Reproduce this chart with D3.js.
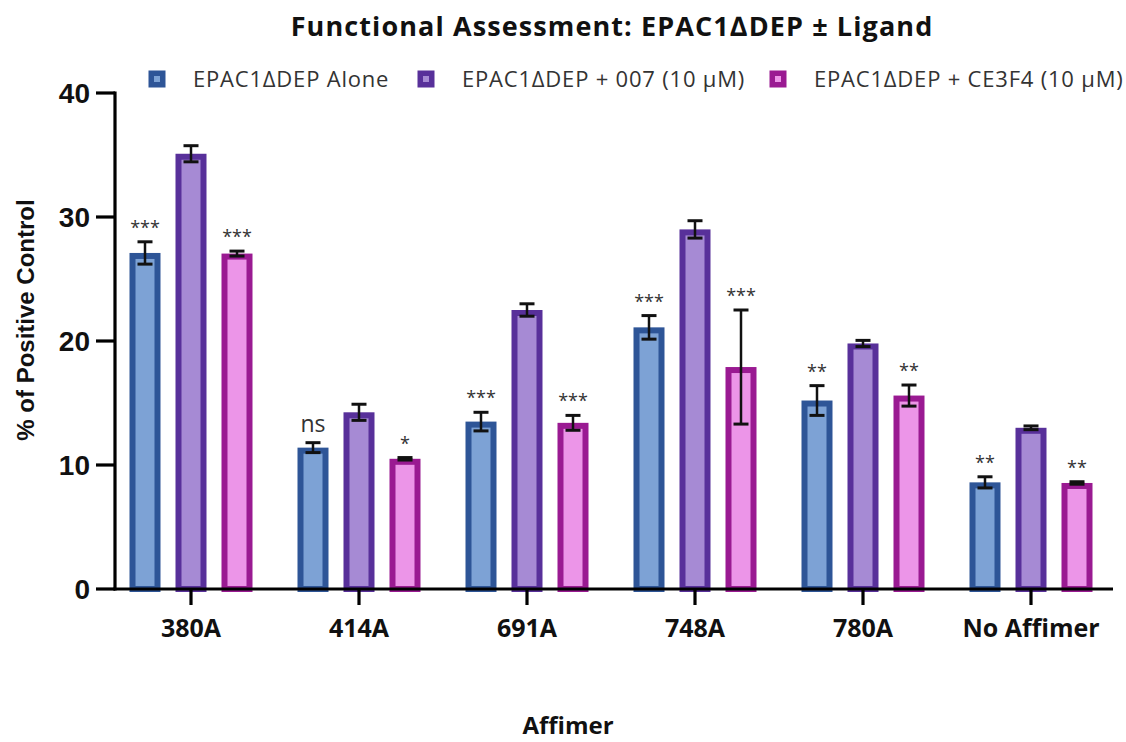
<!DOCTYPE html>
<html><head><meta charset="utf-8">
<script src="https://cdn.jsdelivr.net/npm/d3@7"></script>
<style>body{margin:0;background:#fff}svg{display:block}</style>
</head><body><svg id="c" width="1126" height="742"></svg>
<script>
const categories = ["380A","414A","691A","748A","780A","No Affimer"];
const seriesNames = ["EPAC1\u0394DEP Alone","EPAC1\u0394DEP + 007 (10 \u00B5M)","EPAC1\u0394DEP + CE3F4 (10 \u00B5M)"];
const aloneValues = [27.1, 11.4, 13.5, 21.1, 15.2, 8.6];
const aloneErrors = [0.9, 0.4, 0.75, 0.95, 1.2, 0.45];
const ligand007Values = [35.1, 14.25, 22.5, 29.0, 19.8, 13.0];
const ligand007Errors = [0.65, 0.65, 0.5, 0.7, 0.25, 0.15];
const ce3f4Values = [27.05, 10.5, 13.4, 17.9, 15.6, 8.55];
const ce3f4Errors = [0.2, 0.1, 0.6, 4.6, 0.85, 0.1];
const aloneSig = ["***","ns","***","***","**","**"];
const ligand007Sig = ["","","","","",""];
const ce3f4Sig = ["***","*","***","***","**","**"];
const yTicks = [0, 10, 20, 30, 40];

const strokeCols = ["#2E5597", "#58309A", "#9A1A92"];
const fillCols = ["#7DA2D5", "#A68AD4", "#EC95E8"];

const series = [
  {name: seriesNames[0], values: aloneValues, errors: aloneErrors, sig: aloneSig},
  {name: seriesNames[1], values: ligand007Values, errors: ligand007Errors, sig: ligand007Sig},
  {name: seriesNames[2], values: ce3f4Values, errors: ce3f4Errors, sig: ce3f4Sig}
];

const svg = d3.select("#c");
const x0 = d3.scaleBand().domain(categories).range([107, 1115]);
const x1 = d3.scaleBand().domain(d3.range(series.length)).range([15, 153]).paddingInner(0.326).paddingOuter(0.163);
const y = d3.scaleLinear().domain([0, 40]).range([589, 93]);

// Title
svg.append("text").attr("x", 612).attr("y", 36).attr("text-anchor", "middle")
  .attr("font-family", "Open Sans").attr("font-weight", "bold").attr("font-size", 27)
  .attr("letter-spacing", 1.1).attr("fill", "#111")
  .text("Functional Assessment: EPAC1\u2206DEP \u00B1 Ligand");

// Legend
const legendX = [157, 426, 778];
series.forEach((s, i) => {
  const g = svg.append("g").attr("transform", `translate(${legendX[i]},79)`);
  g.append("rect").attr("x", -8.5).attr("y", -8.5).attr("width", 17).attr("height", 17).attr("fill", strokeCols[i]);
  g.append("rect").attr("x", -3).attr("y", -3).attr("width", 6).attr("height", 6).attr("fill", fillCols[i]);
  g.append("text").attr("x", 36).attr("y", 8).attr("font-family", "Open Sans").attr("font-size", 22)
    .attr("letter-spacing", 0.8).attr("fill", "#333").text(s.name);
});

// Bars
const groups = svg.selectAll("g.grp").data(categories).join("g").attr("class", "grp")
  .attr("transform", d => `translate(${x0(d)},0)`);
series.forEach((s, si) => {
  groups.each(function(cat, ci) {
    const g = d3.select(this);
    const bx = x1(si), bw = x1.bandwidth();
    const v = s.values[ci], e = s.errors[ci];
    g.append("rect").attr("x", bx + 3).attr("y", y(v) + 3).attr("width", bw - 6).attr("height", y(0) - y(v) - 3)
      .attr("fill", fillCols[si]).attr("stroke", strokeCols[si]).attr("stroke-width", 6);
    const cx = bx + bw / 2;
    g.append("line").attr("x1", cx).attr("x2", cx).attr("y1", y(v + e)).attr("y2", y(v - e))
      .attr("stroke", "#111").attr("stroke-width", 2.5);
    [v + e, v - e].forEach(t => g.append("line").attr("x1", cx - 7.5).attr("x2", cx + 7.5)
      .attr("y1", y(t)).attr("y2", y(t)).attr("stroke", "#111").attr("stroke-width", 3));
    const lab = s.sig[ci];
    if (lab) {
      g.append("text").attr("x", cx).attr("y", y(v + e) - (lab === "ns" ? 11 : 8)).attr("text-anchor", "middle")
        .attr("font-family", "Open Sans").attr("font-size", lab === "ns" ? 23 : 18).attr("fill", "#333").text(lab);
    }
  });
});

// Y axis
const ya = svg.append("g");
ya.append("line").attr("x1", 115).attr("x2", 115).attr("y1", 91.5).attr("y2", 590.5).attr("stroke", "#000").attr("stroke-width", 3.2);
yTicks.forEach(t => {
  ya.append("line").attr("x1", 96).attr("x2", 115).attr("y1", y(t)).attr("y2", y(t)).attr("stroke", "#000").attr("stroke-width", 3.2);
  ya.append("text").attr("x", 90).attr("y", y(t) + 10).attr("text-anchor", "end")
    .attr("font-family", "Liberation Sans").attr("font-weight", "bold").attr("font-size", 28).attr("fill", "#111").text(t);
});
svg.append("text").attr("transform", "translate(34,320) rotate(-90)").attr("text-anchor", "middle")
  .attr("font-family", "Liberation Sans").attr("font-weight", "bold").attr("font-size", 24).attr("fill", "#111")
  .text("% of Positive Control");

// X axis
const xa = svg.append("g");
xa.append("line").attr("x1", 113.5).attr("x2", 1113).attr("y1", y(0)).attr("y2", y(0)).attr("stroke", "#000").attr("stroke-width", 3.2);
categories.forEach(c => {
  const cx = x0(c) + x0.bandwidth() / 2;
  xa.append("line").attr("x1", cx).attr("x2", cx).attr("y1", y(0)).attr("y2", 605).attr("stroke", "#000").attr("stroke-width", 3.2);
  xa.append("text").attr("x", cx).attr("y", 637).attr("text-anchor", "middle")
    .attr("font-family", "Open Sans").attr("font-weight", "bold").attr("font-size", 25).attr("fill", "#111").text(c);
});
svg.append("text").attr("x", 568).attr("y", 734).attr("text-anchor", "middle")
  .attr("font-family", "Open Sans").attr("font-weight", "bold").attr("font-size", 24).attr("fill", "#111").text("Affimer");
</script></body></html>
